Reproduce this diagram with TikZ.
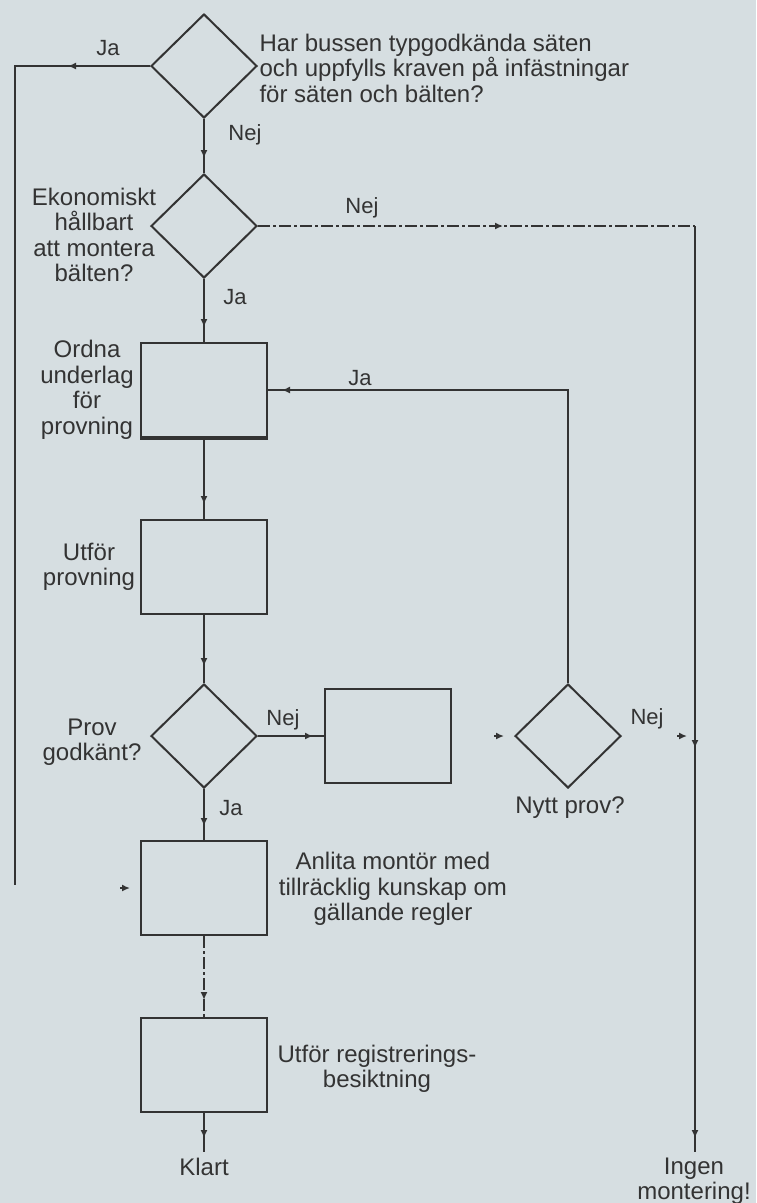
\documentclass[tikz,border=0pt]{standalone}
\usepackage{fontspec}
\setmainfont{Liberation Sans}
\usetikzlibrary{shapes.geometric,arrows.meta,decorations.markings,calc}
\definecolor{bg}{HTML}{D6DEE1}
\definecolor{ink}{HTML}{333333}
\begin{document}
\begin{tikzpicture}[x=1pt,y=-1pt,
  every node/.style={text=ink, font=\fontsize{24}{25.5}\selectfont},
  lbl/.style={font=\fontsize{22}{24}\selectfont},
  box/.style={draw=ink, line width=2pt, minimum width=126pt, minimum height=94pt, inner sep=0pt},
  dec/.style={draw=ink, line width=2pt, shape=diamond, minimum width=106pt, minimum height=104pt, inner sep=0pt},
  conn/.style={draw=ink, line width=2pt},
  dashdotline/.style={dash pattern=on 12pt off 3pt on 3pt off 3pt},
  tipstyle/.style={-{Latex[length=8pt,width=7pt]}, draw=ink, line width=2pt},
  arrowat/.style={postaction={decorate, decoration={markings, mark=at position #1 with {\arrow[ink]{Latex[length=8pt,width=7pt]}}}}},
  arrowtwo/.style 2 args={postaction={decorate, decoration={markings,
      mark=at position #1 with {\arrow[ink]{Latex[length=8pt,width=7pt]}},
      mark=at position #2 with {\arrow[ink]{Latex[length=8pt,width=7pt]}}}}}
]
\useasboundingbox (0,0) rectangle (756,1203);
\fill[bg] (0,0) rectangle (756,1203);

% shapes
\node[dec] (d1) at (204,66) {};
\node[dec] (d2) at (204,226) {};
\node[box] (b1) at (204,390) {};
\node[box] (b2) at (204,567) {};
\node[dec] (d3) at (204,736) {};
\node[box] (b3) at (388,736) {};
\node[dec] (d4) at (568,736) {};
\node[box] (b4) at (204,888) {};
\node[box] (b5) at (204,1065) {};
\draw[ink, line width=4.5pt] (b1.south west) -- (b1.south east);

% texts
\node[align=left, anchor=west] (q1) at (256,68) {Har bussen typgodkända säten\\och uppfylls kraven på infästningar\\för säten och bälten?};
\node[align=center] (q2) at (94,235) {Ekonomiskt\\hållbart\\att montera\\bälten?};
\node[align=center] (t1) at (87,390) {Ordna\\underlag\\för\\provning};
\node[align=center] (t2) at (89,567) {Utför\\provning};
\node[align=center] (q3) at (92,742) {Prov\\godkänt?};
\node (q4) at (570,808) {Nytt prov?};
\node[align=center] (t4) at (393,889) {Anlita montör med\\tillräcklig kunskap om\\gällande regler};
\node[align=center] (t5) at (377,1069) {Utför registrerings-\\besiktning};
\node (klart) at (204,1167) {Klart};
\node[align=center] (ingen) at (694,1181) {Ingen\\montering!};

% labels
\node[lbl] (ja1) at (108,48) {Ja};
\node[lbl] (nej1) at (245,135) {Nej};
\node[lbl] (nej2) at (362,208) {Nej};
\node[lbl] (ja2) at (235,297) {Ja};
\node[lbl] (ja3) at (360,378) {Ja};
\node[lbl] (nej3) at (283,720) {Nej};
\node[lbl] (nej4) at (647,719) {Nej};
\node[lbl] (ja4) at (231,808) {Ja};

% connectors
\coordinate (c1) at (15,66);
\coordinate (c2) at (15,885);
\draw[conn, arrowat=82pt] (d1.west) -- (c1) -- (c2);
\draw[conn, arrowat=-15pt] (d1.south) -- (d2.north);
\coordinate (c3) at (695,226);
\coordinate (c4) at (695,1152);
\draw[conn, dashdotline, arrowat=245pt] (d2.east) -- (c3);
\draw[conn, arrowtwo={522pt}{-14pt}] (c3) -- (c4);
\draw[conn, arrowat=-15pt] (d2.south) -- (b1.north);
\draw[conn, arrowat=-14pt] (d4.north) -- (d4.north |- b1.east) -- (b1.east);
\draw[conn, arrowat=-15pt] (b1.south) -- (b2.north);
\draw[conn, arrowat=-17pt] (b2.south) -- (d3.north);
\draw[conn, arrowat=-11pt] (d3.east) -- (b3.west);
\draw[conn, arrowat=-14pt] (d3.south) -- (b4.north);
\draw[conn, dashdotline, arrowat=-17pt] (b4.south) -- (b5.north);
\coordinate (c5) at (204,1152);
\draw[conn, arrowat=-14pt] (b5.south) -- (c5);

% stray arrow marks
\coordinate (m1) at ($(d4.west)+(-20,0)$);
\draw[tipstyle] (m1) -- ++(10,0);
\coordinate (m2) at ($(c3|-d4.east)+(-18,0)$);
\draw[tipstyle] (m2) -- ++(10,0);
\coordinate (m3) at ($(b4.west)+(-20,0)$);
\draw[tipstyle] (m3) -- ++(10,0);
\end{tikzpicture}
\end{document}
